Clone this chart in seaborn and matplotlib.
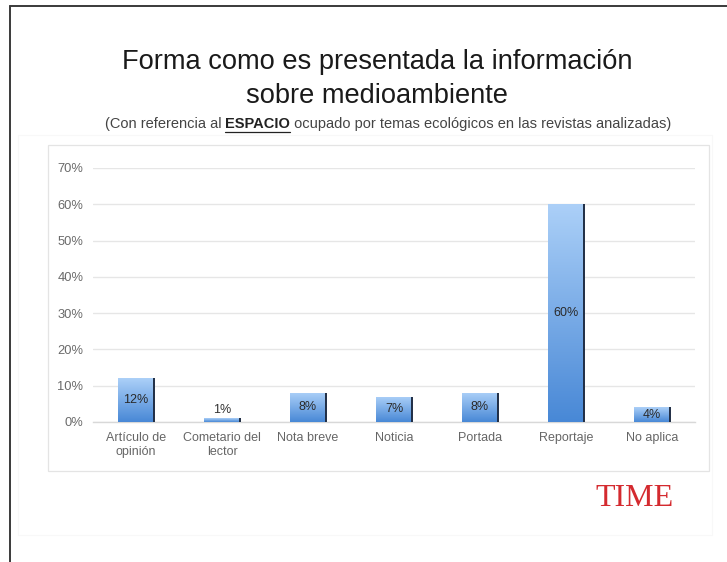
import matplotlib
matplotlib.use("Agg")
import matplotlib.pyplot as plt
import matplotlib.patches as mpatches
from matplotlib.lines import Line2D
import numpy as np
import pandas as pd
import seaborn as sns

categories = ["Artículo de\nopinión", "Cometario del\nlector", "Nota breve",
              "Noticia", "Portada", "Reportaje", "No aplica"]
values = [12, 1, 8, 7, 8, 60, 4]
value_labels = ["12%", "1%", "8%", "7%", "8%", "60%", "4%"]
y_ticks = [0, 10, 20, 30, 40, 50, 60, 70]
y_tick_labels = ["0%", "10%", "20%", "30%", "40%", "50%", "60%", "70%"]

title_text = "Forma como es presentada la información\nsobre medioambiente"
sub_before = "(Con referencia al "
sub_bold = "ESPACIO"
sub_after = " ocupado por temas ecológicos en las revistas analizadas)"

sns.set_style("white")
plt.rcParams["font.family"] = ["Liberation Sans", "DejaVu Sans"]

W, H = 727, 562
fig = plt.figure(figsize=(W / 100, H / 100), dpi=100)
fig.patch.set_facecolor("white")

# outer slide frame (left and top lines)
fig.add_artist(Line2D([10 / W, 10 / W], [0, 1 - 6 / H], color="#3a3a3a", lw=1.4,
                      transform=fig.transFigure))
fig.add_artist(Line2D([10 / W, 1], [1 - 6 / H, 1 - 6 / H], color="#3a3a3a", lw=1.4,
                      transform=fig.transFigure))
# faint inner slide area
fig.add_artist(mpatches.Rectangle((18 / W, (H - 535) / H), (712 - 18) / W, (535 - 135) / H,
                                  fill=False, ec="#f8f8f8", lw=0.8,
                                  transform=fig.transFigure))
# chart box
fig.add_artist(mpatches.Rectangle((48 / W, (H - 471) / H), (709 - 48) / W, (471 - 145) / H,
                                  fill=False, ec="#e4e4e4", lw=0.9,
                                  transform=fig.transFigure))

ax = fig.add_axes([93 / W, (H - 422) / H, 602 / W, 254 / H])
df = pd.DataFrame({"cat": categories, "val": values})
sns.barplot(data=df, x="cat", y="val", ax=ax, color="#6aa3e6", width=0.41,
            edgecolor="none", zorder=3)

ax.set_ylim(0, 70)
ax.set_xlim(-0.5, len(categories) - 0.5)
ax.set_yticks(y_ticks)
ax.set_yticklabels(y_tick_labels)
ax.set_xlabel("")
ax.set_ylabel("")
ax.yaxis.grid(True, color="#e6e6e6", lw=1.0, zorder=0)
ax.set_axisbelow(True)
for s in ["top", "right", "left"]:
    ax.spines[s].set_visible(False)
ax.spines["bottom"].set_color("#d8d8d8")
ax.spines["bottom"].set_linewidth(1.0)
ax.tick_params(axis="y", length=0, pad=7, labelsize=9.3, labelcolor="#6a6a6a")
ax.tick_params(axis="x", which="major", length=0, pad=7, labelsize=9, labelcolor="#666666")
ax.set_xticks(np.arange(-0.5, len(categories) + 0.5, 1.0), minor=True)
ax.tick_params(axis="x", which="minor", length=3, color="#d0d0d0", width=0.8)

# gradient fill for bars
grad = np.linspace(0, 1, 256).reshape(-1, 1)
cmap = matplotlib.colors.LinearSegmentedColormap.from_list("g", ["#4888d6", "#acd0f8"])
for p in ax.patches:
    x0, y0 = p.get_x(), p.get_y()
    w, h = p.get_width(), p.get_height()
    im = ax.imshow(grad, extent=[x0, x0 + w, y0, y0 + h], origin="lower", cmap=cmap,
                   aspect="auto", zorder=4)
    im.set_clip_path(p)
    p.set_facecolor("none")
    ax.plot([x0 + w, x0 + w], [y0, y0 + h], color="#1f2d44", lw=1.4, zorder=5,
            solid_capstyle="butt")
ax.set_xlim(-0.5, len(categories) - 0.5)
ax.set_ylim(0, 70)

for i, (v, lab) in enumerate(zip(values, value_labels)):
    if v < 3:
        ax.text(i, v + 0.6, lab, ha="center", va="bottom", fontsize=9, color="#333333", zorder=6)
    else:
        ax.text(i, v / 2, lab, ha="center", va="center", fontsize=9, color="#2a2a2a", zorder=6)

# title
fig.text(377 / W, 1 - 79 / H, title_text, ha="center", va="center", fontsize=19.6,
         color="#1a1a1a", linespacing=1.38)

# subtitle with bold underlined word
fig.canvas.draw()
r = fig.canvas.get_renderer()
fs = 10.5
y_sub = 1 - 124 / H
t1 = fig.text(0, y_sub, sub_before, fontsize=fs, color="#444444", va="center")
t2 = fig.text(0, y_sub, sub_bold, fontsize=fs, color="#222222", va="center", weight="bold")
t3 = fig.text(0, y_sub, sub_after, fontsize=fs, color="#444444", va="center")
w1 = t1.get_window_extent(r).width
w2 = t2.get_window_extent(r).width
w3 = t3.get_window_extent(r).width
total = w1 + w2 + w3
start = 388 - total / 2
t1.set_x(start / W)
t2.set_x((start + w1) / W)
t3.set_x((start + w1 + w2) / W)
uy = y_sub - 8.5 / H
fig.add_artist(Line2D([(start + w1) / W, (start + w1 + w2) / W], [uy, uy], color="#222222",
                      lw=0.9, transform=fig.transFigure))

# TIME logo
fig.text(635 / W, 1 - 498 / H, "TIME", ha="center", va="center", fontsize=23,
         color="#d42a2f", family=["Liberation Serif", "DejaVu Serif"])

fig.savefig("out.png", dpi=100, facecolor="white")
